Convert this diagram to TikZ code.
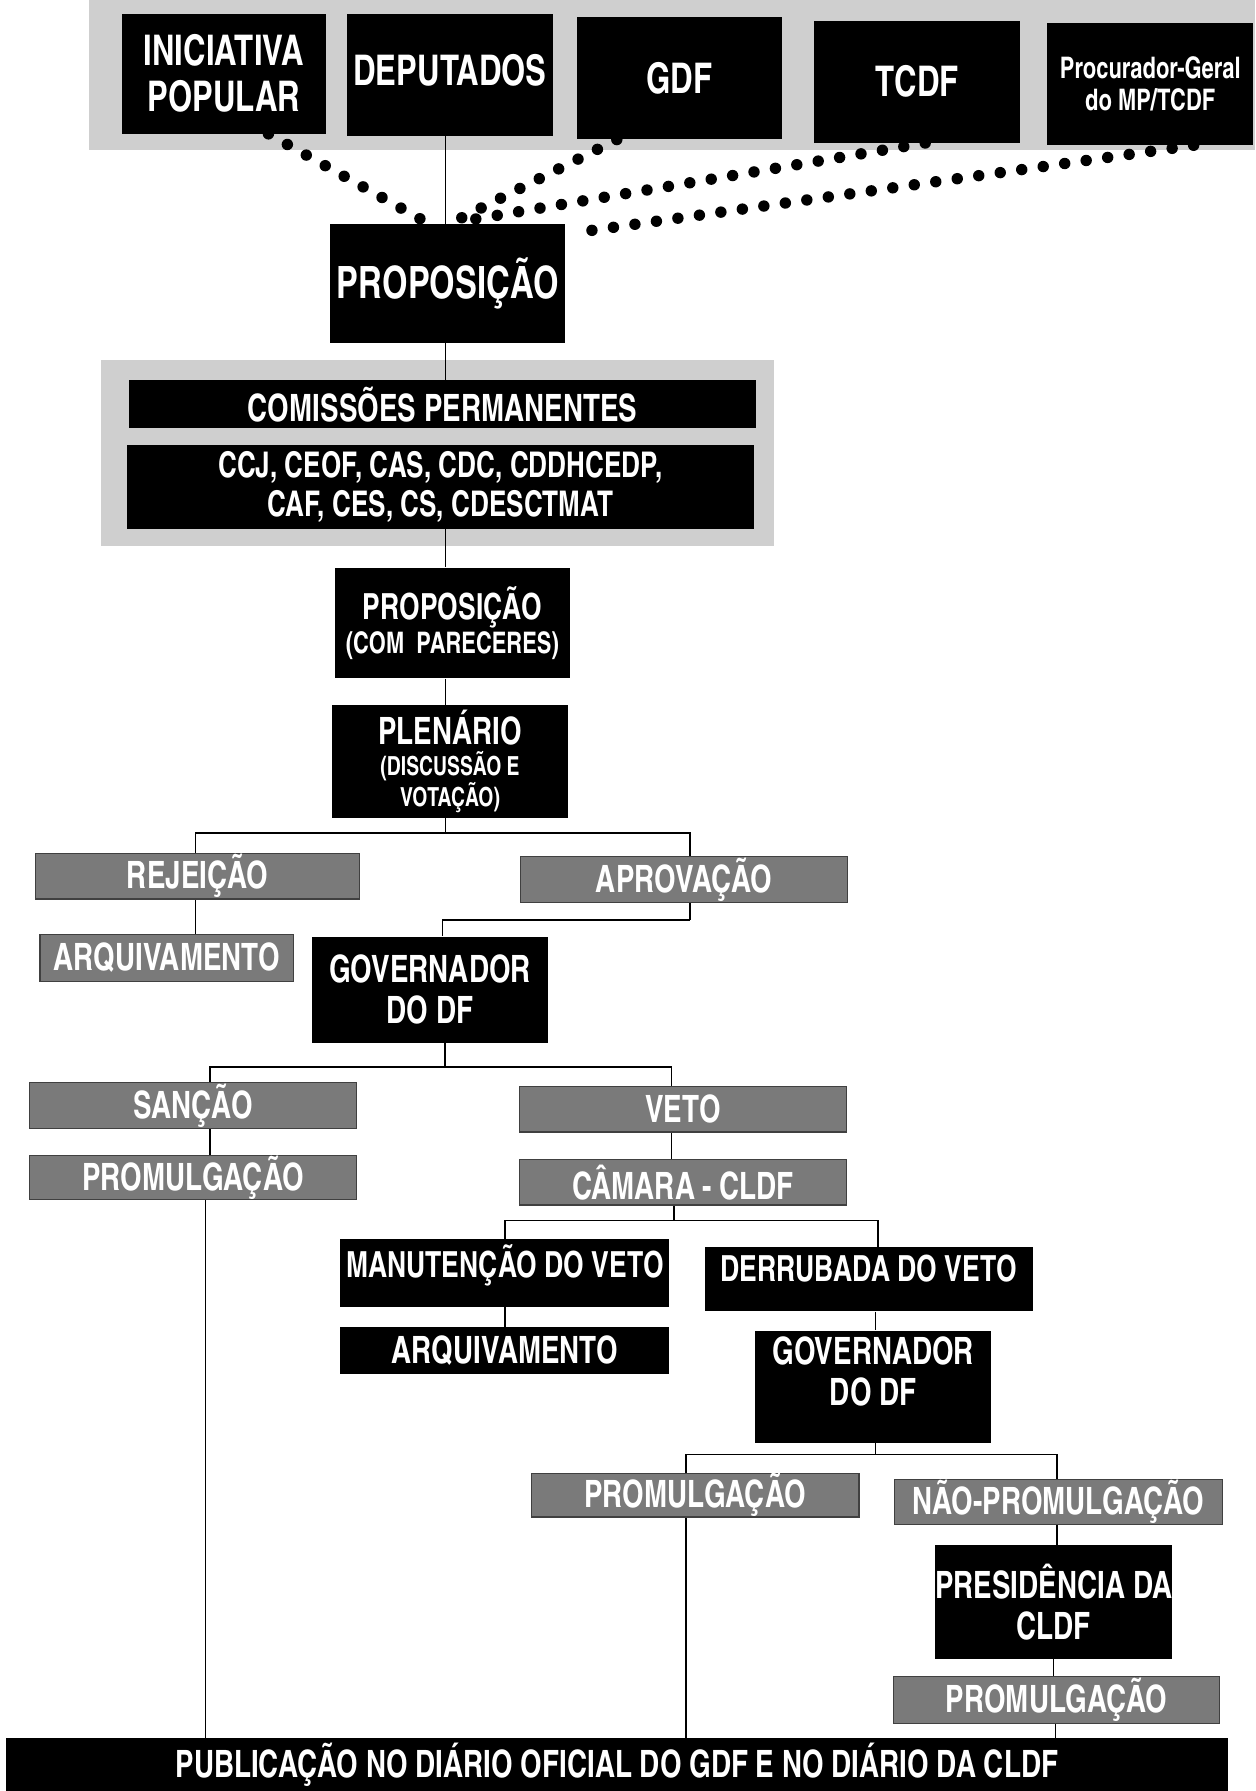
\documentclass[tikz,border=0pt]{standalone}
\usepackage{fontspec}
\setmainfont{texgyreheroscn-bold.otf}[FakeStretch=0.9]
\usetikzlibrary{calc}
\pgfdeclarelayer{back}
\pgfdeclarelayer{mid}
\pgfsetlayers{back,mid,main}
\newcommand\fsz[2]{\fontsize{#1}{#2}\selectfont}
\tikzset{
  bk/.style={fill=black, text=white, inner sep=0pt, align=center, font={\fsz{33}{36}}},
  gr/.style={fill=black!52, draw=black!75, line width=1pt, text=white, inner sep=0pt, align=center, font={\fsz{33}{36}}},
  top/.style={bk, minimum width=180pt, minimum height=107pt, font={\fsz{37}{40}}},
  ln/.style={draw=black, line width=1.3pt},
  dots/.style={draw=black, line width=10pt, line cap=round, dash pattern=on 0pt off 19pt},
  panel/.style={fill=black!19}
}
\begin{document}
\begin{tikzpicture}[x=1pt,y=-1pt]
\useasboundingbox (0,0) rectangle (1099,1568);
\begin{pgfonlayer}{back}
  \fill[white] (0,0) rectangle (1099,1568);
  \fill[panel] (78,0) rectangle (1099,131);
  \fill[panel] (88,315) rectangle (678,478);
\end{pgfonlayer}

% top row
\node[top, minimum width=178pt, minimum height=105pt] (ini) at (196,64.5) {INICIATIVA\\POPULAR};
\node[top, text depth=8pt] (dep) at (394,65.5) {DEPUTADOS};
\node[top] (gdf) at (595,68.5) {GDF};
\node[top] (tcdf) at (803,71.5) {TCDF};
\node[top, font={\fsz{26}{28}}] (proc) at (1007,73.5) {Procurador-Geral\\do MP/TCDF};

\node[bk, minimum width=206pt, minimum height=104pt, font={\fsz{39}{40}}] (prop1) at (392,248) {PROPOSIÇÃO};

\node[bk, minimum width=549pt, minimum height=42pt] (com) at (387.5,354) {COMISSÕES PERMANENTES};
\node[bk, minimum width=549pt, minimum height=73pt, font={\fsz{31}{34}}] (ccj) at (385.5,426.5) {CCJ, CEOF, CAS, CDC, CDDHCEDP,\\CAF, CES, CS, CDESCTMAT};

\node[bk, minimum width=206pt, minimum height=97pt, font={\fsz{26}{28}}] (prop2) at (396,545.5) {{\fsz{31.5}{31}PROPOSIÇÃO}\\[1pt](COM\ \ PARECERES)};
\node[bk, minimum width=206pt, minimum height=99pt, font={\fsz{23}{23}}] (plen) at (394,666.5) {{\fsz{33}{30}PLENÁRIO}\\[4pt](DISCUSSÃO E\\VOTAÇÃO)};

\node[gr, minimum width=284pt, minimum height=40pt] (rej) at (173,767) {REJEIÇÃO};
\node[gr, minimum width=286pt, minimum height=40pt] (apr) at (599,770) {APROVAÇÃO};
\node[gr, minimum width=222pt, minimum height=41pt] (arq1) at (146,838.5) {ARQUIVAMENTO};
\node[bk, minimum width=207pt, minimum height=93pt] (gov1) at (376.5,866.5) {GOVERNADOR\\DO DF};

\node[gr, minimum width=286pt, minimum height=40pt] (san) at (169,968) {SANÇÃO};
\node[gr, minimum width=286pt, minimum height=40pt] (veto) at (598,971) {VETO};
\node[gr, minimum width=286pt, minimum height=38pt] (prom1) at (169,1031) {PROMULGAÇÃO};
\node[gr, minimum width=286pt, minimum height=40pt] (cam) at (598,1035) {CÂMARA - CLDF};

\node[bk, minimum width=288pt, minimum height=59pt, font={\fsz{31.5}{34}}, text height=24pt, text depth=17pt] (man) at (442,1114.5) {MANUTENÇÃO DO VETO};
\node[bk, minimum width=287pt, minimum height=56pt, font={\fsz{31.5}{34}}, text height=24pt, text depth=20pt] (der) at (760.5,1120) {DERRUBADA DO VETO};
\node[bk, minimum width=288pt, minimum height=41pt] (arq2) at (442,1182.5) {ARQUIVAMENTO};
\node[bk, minimum width=207pt, minimum height=98pt, text depth=28pt] (gov2) at (764.5,1214) {GOVERNADOR\\DO DF};

\node[gr, minimum width=287pt, minimum height=38pt] (prom2) at (608.5,1309) {PROMULGAÇÃO};
\node[gr, minimum width=287pt, minimum height=40pt] (nao) at (926.5,1315) {NÃO-PROMULGAÇÃO};
\node[bk, minimum width=207pt, minimum height=99pt] (pres) at (922.5,1402.5) {PRESIDÊNCIA DA\\CLDF};
\node[gr, minimum width=286pt, minimum height=41pt] (prom3) at (925,1488.5) {PROMULGAÇÃO};
\node[bk, minimum width=1070pt, minimum height=46pt] (pub) at (540,1545) {PUBLICAÇÃO NO DIÁRIO OFICIAL DO GDF E NO DIÁRIO DA CLDF};

\begin{pgfonlayer}{mid}
  % dotted origin lines
  \draw[dots] ([xshift=39pt]ini.south) -- ([xshift=-22pt,yshift=3pt]prop1.north);
  \draw[dots] ([xshift=-55pt]gdf.south) -- ([xshift=8pt,yshift=3pt]prop1.north);
  \draw[dots] ([xshift=7pt]tcdf.south) -- ([xshift=24pt,yshift=4pt]prop1.north);
  \draw[dots] ([xshift=38pt]proc.south) -- ([xshift=8pt,yshift=-8pt]prop1.north east);
  % solid trunk
  \draw[ln] ([xshift=-4pt]dep.south) -- ([xshift=-2pt]prop1.north);
  \draw[ln] ([xshift=-2pt]prop1.south) -- ([xshift=-2pt]prop1.south |- com.north);
  \draw[ln] ([xshift=-6pt]prop2.north |- ccj.south) -- ([xshift=-6pt]prop2.north);
  \draw[ln] ([xshift=-6pt]prop2.south) -- ([xshift=-6pt]prop2.south |- plen.north);
  % plenario
  \draw[ln] ([xshift=-4pt]plen.south) -- ++(0,13) coordinate (j1);
  \draw[ln] ([xshift=-2pt]rej.north) |- (j1) -| ([xshift=5pt]apr.north);
  \draw[ln] ([xshift=-2pt]rej.south) -- ([xshift=-2pt]rej.south |- arq1.north);
  \draw[ln] ([xshift=5pt]apr.south) -- ++(0,15) coordinate (j2);
  \draw[ln] (j2) -| ([xshift=11pt]gov1.north);
  % governador 1
  \draw[ln] ([xshift=13pt]gov1.south) -- ++(0,21) coordinate (j3);
  \draw[ln] ([xshift=15pt]san.north) |- (j3) -| ([xshift=-10pt]veto.north);
  \draw[ln] ([xshift=15pt]san.south) -- ([xshift=15pt]prom1.north);
  \draw[ln] ([xshift=-10pt]veto.south) -- ([xshift=-10pt]cam.north);
  % camara
  \draw[ln] ([xshift=-8pt]cam.south) -- ++(0,13) coordinate (j4);
  \draw[ln] (man.north) |- (j4) -| ([xshift=8pt]der.north);
  \draw[ln] (man.south) -- (arq2.north);
  \draw[ln] ([xshift=2pt]gov2.north |- der.south) -- ([xshift=2pt]gov2.north);
  % governador 2
  \draw[ln] ([xshift=2pt]gov2.south) -- ++(0,10) coordinate (j5);
  \draw[ln] ([xshift=-8pt]prom2.north) |- (j5) -| ([xshift=-1pt]nao.north);
  \draw[ln] ([xshift=-1pt]nao.south) -- ([xshift=-1pt]nao.south |- pres.north);
  \draw[ln] (pres.south) -- (pres.south |- prom3.north);
  % to publication
  \draw[ln] ([xshift=11pt]prom1.south) -- ([xshift=11pt]prom1.south |- pub.north);
  \draw[ln] ([xshift=-8pt]prom2.south) -- ([xshift=-8pt]prom2.south |- pub.north);
  \draw[ln] ([xshift=-1pt]prom3.south) -- ([xshift=-1pt]prom3.south |- pub.north);
\end{pgfonlayer}
\end{tikzpicture}
\end{document}
